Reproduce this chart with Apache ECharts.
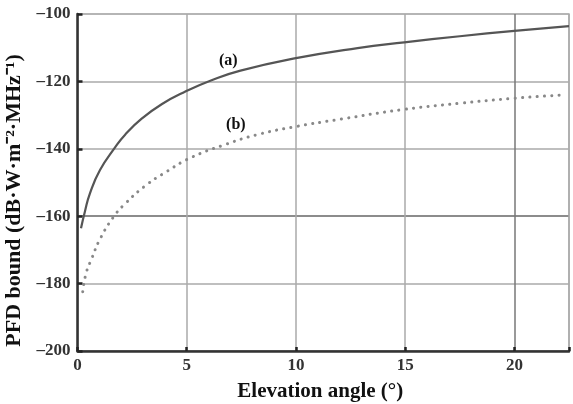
<!DOCTYPE html>
<html>
<head>
<meta charset="utf-8">
<script src="https://cdn.jsdelivr.net/npm/echarts@6/dist/echarts.min.js"></script>
<style>html,body{margin:0;padding:0;background:#fff}#c{width:573px;height:404px}</style>
</head>
<body>
<div id="c"></div>
<script>
var xA = [0.16, 0.34, 0.57, 1.03, 1.72, 2.18, 2.95, 3.87, 4.94, 6.08, 7.46, 10.0, 12.82, 14.96, 17.5, 20.0, 22.5];
var yA = [-163.6, -158.6, -153.2, -146.3, -139.6, -135.8, -131.0, -126.7, -123.0, -119.8, -116.8, -113.1, -110.1, -108.4, -106.6, -105.0, -103.6];
var xB = [0.24, 0.39, 0.65, 1.03, 1.64, 2.18, 3.1, 4.02, 5.2, 6.69, 8.23, 10.0, 12.05, 14.96, 17.5, 20.0, 22.3];
var yB = [-182.4, -177.0, -172.6, -166.8, -160.3, -156.3, -151.0, -147.0, -142.6, -138.9, -135.8, -133.4, -131.2, -128.3, -126.5, -125.0, -124.0];
var xTicks = [0, 5, 10, 15, 20];
var yTicks = [-200, -180, -160, -140, -120, -100];
var labelA = {text: '(a)', x: 6.9, y: -113.9};
var labelB = {text: '(b)', x: 7.25, y: -133.0};

function pairs(xs, ys) { return xs.map(function (x, i) { return [x, ys[i]]; }); }
var font = 'Liberation Serif';
var chart = echarts.init(document.getElementById('c'), null, {renderer: 'canvas'});
chart.setOption({
  animation: false,
  backgroundColor: '#fff',
  grid: {left: 77.5, right: 4, top: 14, bottom: 53, show: true, borderColor: '#b0b0b0', borderWidth: 1.5,
    containLabel: false, outerBoundsMode: 'none'},
  xAxis: {
    type: 'value', min: 0, max: 22.5, interval: 5,
    name: 'Elevation angle (°)', nameLocation: 'middle', nameGap: 30,
    nameTextStyle: {fontFamily: font, fontWeight: 'bold', fontSize: 21, color: '#111', padding: [0, 6, 0, 0]},
    axisLine: {lineStyle: {color: '#333', width: 2.5}},
    axisTick: {inside: true, length: 4, lineStyle: {color: '#222', width: 2.5}},
    axisLabel: {fontFamily: font, fontWeight: 'bold', fontSize: 17, color: '#333', margin: 6,
      formatter: function (v) { return xTicks.indexOf(v) >= 0 ? String(v) : ''; }},
    splitLine: {show: true, lineStyle: {color: ['#aaa', '#aaa', '#aaa', '#aaa', '#777'], width: 1.5}}
  },
  yAxis: {
    type: 'value', min: -200, max: -100, interval: 20,
    name: 'PFD bound (dB·W·m⁻²·MHz⁻¹)', nameLocation: 'middle', nameGap: 43,
    nameTextStyle: {fontFamily: font, fontWeight: 'bold', fontSize: 22, color: '#111', padding: [0, 36, 0, 0]},
    axisLine: {lineStyle: {color: '#333', width: 2.5}},
    axisTick: {inside: true, length: 5, lineStyle: {color: '#222', width: 2.5}},
    axisLabel: {fontFamily: font, fontWeight: 'bold', fontSize: 17, color: '#333', margin: 7,
      formatter: function (v) { return yTicks.indexOf(v) >= 0 ? String(v).replace('-', '–') : ''; }},
    splitLine: {show: true, lineStyle: {color: ['#888', '#aaa', '#666', '#aaa', '#aaa', '#b0b0b0'], width: 1.5}}
  },
  series: [
    {
      type: 'line', data: pairs(xA, yA), smooth: 0.5, showSymbol: false,
      lineStyle: {color: '#555', width: 2.2},
      markPoint: {symbol: 'circle', symbolSize: 0, data: [{coord: [labelA.x, labelA.y], value: labelA.text}],
        label: {show: true, formatter: '{c}', fontFamily: font, fontWeight: 'bold', fontSize: 16, color: '#111'}}
    },
    {
      type: 'line', data: pairs(xB, yB), smooth: 0.5, showSymbol: false,
      lineStyle: {color: '#888', width: 3, type: [0.1, 7.2], cap: 'round'},
      markPoint: {symbol: 'circle', symbolSize: 0, data: [{coord: [labelB.x, labelB.y], value: labelB.text}],
        label: {show: true, formatter: '{c}', fontFamily: font, fontWeight: 'bold', fontSize: 16, color: '#111'}}
    }
  ]
});
</script>
</body>
</html>
